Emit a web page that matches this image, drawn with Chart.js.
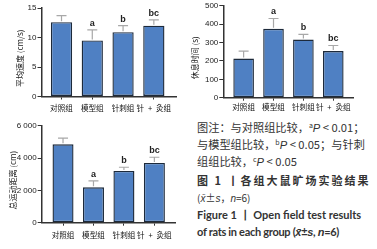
<!DOCTYPE html>
<html>
<head>
<meta charset="utf-8">
<script src="https://cdn.jsdelivr.net/npm/chart.js@4.4.1/dist/chart.umd.min.js"></script>
<style>
  html, body { margin: 0; padding: 0; background: #fff; }
  #wrap { position: relative; width: 377px; height: 249px; overflow: hidden; }
  .box { position: absolute; }
  #note { position: absolute; left: 197px; top: 117px; width: 180px; color: #333;
          font-family: "Noto Sans CJK SC", sans-serif; font-size: 11.2px; }
  #note div { position: absolute; left: 0; white-space: nowrap; }
  #note i { font-family: "Liberation Sans", sans-serif; }
  #note sup { font-size: 7px; vertical-align: 4px; }
  .cap { font-weight: bold; font-size: 11px; letter-spacing: 2px; }
  .en { font-family: "Lato", sans-serif; font-weight: bold; font-size: 11px; }
</style>
</head>
<body>
<div id="wrap">
  <div class="box" style="left:0;top:0;width:190px;height:115px"><canvas id="c1"></canvas></div>
  <div class="box" style="left:190px;top:0;width:187px;height:115px"><canvas id="c2"></canvas></div>
  <div class="box" style="left:0;top:115px;width:190px;height:134px"><canvas id="c3"></canvas></div>
  <div id="note">
    <div style="top:2px">图注：与对照组比较，<sup>a</sup><i>P</i> &lt; 0.01；</div>
    <div style="top:19px">与模型组比较，<sup>b</sup><i>P</i> &lt; 0.05；与针刺</div>
    <div style="top:36px">组组比较，<sup>c</sup><i>P</i> &lt; 0.05</div>
    <div class="cap" style="top:55px">图 1 丨各组大鼠旷场实验结果</div>
    <div style="top:73px;font-size:10px">(<i>x̄</i>±<i>s</i>，<i>n</i>=6)</div>
    <div class="en" style="top:91px">Figure 1 丨 Open field test results</div>
    <div class="en" style="top:108px;letter-spacing:-0.3px">of rats in each group (<i>x̄</i>±<i>s</i>, <i>n</i>=6)</div>
  </div>
</div>
<script>
const groups = ['对照组', '模型组', '针刺组', '针\u2002+\u2002灸组'];
const marks = ['', 'a', 'b', 'bc'];

const speedMean = [12.6, 9.5, 10.9, 12.0];
const speedSd = [1.1, 1.8, 1.1, 1.0];

const restMean = [213, 375, 316, 254];
const restSd = [40, 56, 28, 30];

const distMean = [4850, 2190, 3200, 3700];
const distSd = [380, 400, 230, 350];

const errorBars = {
  id: 'errorBars',
  afterDatasetsDraw(chart) {
    const ds = chart.data.datasets[0];
    const meta = chart.getDatasetMeta(0);
    const y = chart.scales.y;
    const ctx = chart.ctx;
    ctx.save();
    meta.data.forEach((bar, i) => {
      const top = y.getPixelForValue(ds.data[i].y + ds.sd[i]);
      ctx.strokeStyle = '#a8a8a8';
      ctx.lineWidth = 1.2;
      ctx.beginPath();
      ctx.moveTo(bar.x, bar.y - 1);
      ctx.lineTo(bar.x, top);
      ctx.moveTo(bar.x - 5, top);
      ctx.lineTo(bar.x + 5, top);
      ctx.stroke();
      if (ds.marks[i]) {
        ctx.fillStyle = '#222';
        ctx.font = 'bold 9px "Liberation Sans"';
        ctx.textAlign = 'center';
        ctx.textBaseline = 'bottom';
        ctx.fillText(ds.marks[i], bar.x, top - 2);
      }
    });
    ctx.restore();
  }
};

function fmt(v) {
  return String(v).replace(/\B(?=(\d{3})+(?!\d))/g, ' ');
}

function makeChart(id, mean, sd, o) {
  new Chart(document.getElementById(id), {
    type: 'bar',
    data: {
      datasets: [{
        data: mean.map((v, i) => ({ x: i, y: v })),
        sd: sd,
        marks: marks,
        backgroundColor: '#4f80c3',
        borderColor: '#1d2a3b',
        borderWidth: 1.4,
        borderSkipped: false,
        barPercentage: 0.69,
        categoryPercentage: 1
      }]
    },
    options: {
      responsive: true,
      maintainAspectRatio: false,
      animation: false,
      layout: { padding: { left: 0, top: o.top, right: o.right, bottom: 0 } },
      plugins: { legend: { display: false }, tooltip: { enabled: false } },
      scales: {
        x: {
          type: 'linear',
          offset: false,
          min: o.xmin,
          max: o.xmax,
          afterFit(s) { s.height = o.xh; },
          border: { color: '#333', width: 1.5 },
          grid: { drawOnChartArea: false, offset: false, tickLength: 3, color: '#333' },
          ticks: {
            stepSize: 1,
            includeBounds: false,
            autoSkip: false,
            maxRotation: 0,
            padding: o.xpad,
            color: '#111',
            font: { family: '"Noto Sans CJK SC"', size: 7.6 },
            callback: v => groups[v] ?? ''
          }
        },
        y: {
          min: 0,
          max: o.ymax,
          afterFit(s) { s.width = o.yw; },
          border: { color: '#333', width: 1.5 },
          grid: { drawOnChartArea: false, tickLength: 4, color: '#333' },
          ticks: {
            stepSize: o.step,
            padding: 1,
            color: '#222',
            font: { family: '"Liberation Sans"', size: 8 },
            callback: v => fmt(v)
          },
          title: {
            display: true,
            // trailing spaces nudge the rotated title down like the original
            text: o.title + '\u2003\u2002',
            color: '#222',
            padding: { top: o.tpad, bottom: 0 },
            font: { family: '"Noto Sans CJK SC"', size: 8 }
          }
        }
      }
    },
    plugins: [errorBars]
  });
}

makeChart('c1', speedMean, speedSd, {
  title: '平均速度 (cm/s)', ymax: 15, step: 5,
  top: 8, right: 14, yw: 41.5, xh: 18.5, xpad: 3.6, xmin: -0.65, xmax: 3.72, tpad: 15
});
makeChart('c2', restMean, restSd, {
  title: '休息时间 (s)', ymax: 500, step: 100,
  top: 5.7, right: 24, yw: 33.3, xh: 17.3, xpad: 2, xmin: -0.68, xmax: 3.66, tpad: 0.5
});
makeChart('c3', distMean, distSd, {
  title: '总运动距离 (cm)', ymax: 6000, step: 2000,
  top: 10.7, right: 14.3, yw: 41.7, xh: 26.3, xpad: 4.6, xmin: -0.7, xmax: 3.7, tpad: 8
});
</script>
</body>
</html>
